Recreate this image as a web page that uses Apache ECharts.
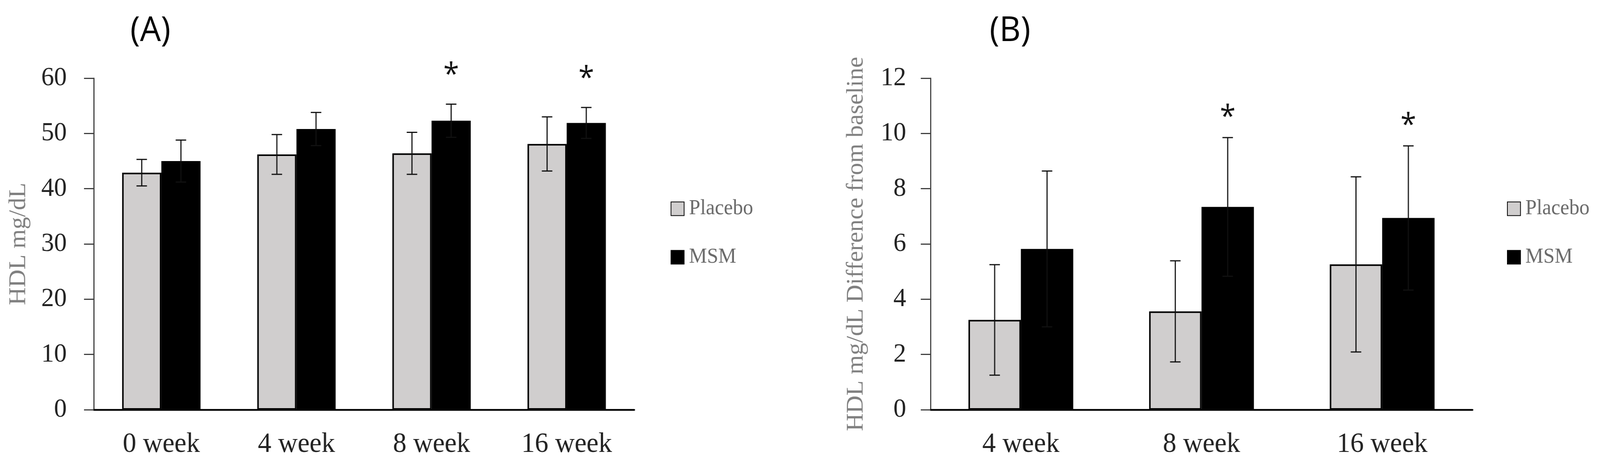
<!DOCTYPE html>
<html>
<head>
<meta charset="utf-8">
<script src="https://cdn.jsdelivr.net/npm/echarts@6/dist/echarts.min.js"></script>
<style>
  html, body { margin: 0; padding: 0; background: #fff; overflow: hidden; }
  #main { width: 4266px; height: 1192px; transform-origin: 0 0; }
</style>
</head>
<body>
<div id="main"></div>
<script>
// panel A: HDL level
var weeksA = ['0 week', '4 week', '8 week', '16 week'];
var placeboA = [42.9, 46.2, 46.4, 48.1];
var placeboErrA = [2.4, 3.6, 3.8, 4.9];
var msmA = [45.0, 50.8, 52.3, 51.9];
var msmErrA = [3.8, 3.0, 3.0, 2.8];
var sigA = [0, 0, 1, 1];

// panel B: difference from baseline
var weeksB = ['4 week', '8 week', '16 week'];
var placeboB = [3.25, 3.56, 5.26];
var placeboErrB = [2.0, 1.83, 3.17];
var msmB = [5.82, 7.34, 6.94];
var msmErrB = [2.82, 2.51, 2.61];
var sigB = [0, 1, 1];

var catGap = 0.42;
var serif = '"Liberation Serif", "DejaVu Serif", serif';
var sans = '"Open Sans", "Liberation Sans", sans-serif';

// the window can come out narrower than the 4266px layout, squeeze it to fit
var box = document.getElementById('main');
var sx = Math.min(1, window.innerWidth / 4266);
if (sx < 1) box.style.transform = 'scaleX(' + sx + ')';

var chart = echarts.init(box);

function errData(vals, errs, sig) {
    return vals.map(function (v, i) { return [i, v, errs[i], sig ? sig[i] : 0]; });
}

// slot: -0.5 for first bar of the group, +0.5 for the second
function errRender(slot, starLift) {
    return function (params, api) {
        var cat = api.value(0), val = api.value(1), err = api.value(2), sig = api.value(3);
        var band = api.size([1, 0])[0];
        var bw = band * (1 - catGap) / 2;
        var c = api.coord([cat, val]);
        var x = c[0] + slot * bw;
        var yt = api.coord([cat, val + err])[1];
        var yb = api.coord([cat, val - err])[1];
        var cap = 14;
        var ls = { stroke: '#111', lineWidth: 3 };
        var kids = [
            { type: 'line', shape: { x1: x, y1: yt, x2: x, y2: yb }, style: ls },
            { type: 'line', shape: { x1: x - cap, y1: yt, x2: x + cap, y2: yt }, style: ls },
            { type: 'line', shape: { x1: x - cap, y1: yb, x2: x + cap, y2: yb }, style: ls }
        ];
        if (sig) {
            kids.push({
                type: 'text', x: x, y: yt - starLift,
                style: { text: '*', fontSize: 76, fontFamily: sans, fill: '#111',
                         align: 'center', verticalAlign: 'middle' }
            });
        }
        return { type: 'group', children: kids };
    };
}

function yAx(idx, max, step, name, gap, margin) {
    return {
        type: 'value', gridIndex: idx, min: 0, max: max, interval: step,
        name: name, nameLocation: 'middle', nameRotate: 90, nameGap: gap,
        nameTextStyle: { fontFamily: serif, fontSize: 63, color: '#808080' },
        axisLine: { show: true, lineStyle: { color: '#404040', width: 3 } },
        axisTick: { show: true, length: 26, lineStyle: { color: '#404040', width: 3 } },
        axisLabel: { margin: margin, fontFamily: serif, fontSize: 68, color: '#222' },
        splitLine: { show: false }
    };
}

function xAx(idx, cats) {
    return {
        type: 'category', gridIndex: idx, data: cats,
        axisLine: { lineStyle: { color: '#000', width: 4.5 } },
        axisTick: { show: false },
        axisLabel: { margin: 53, fontFamily: serif, fontSize: 72, color: '#222' }
    };
}

var placeboStyle = { color: '#d0cece', borderColor: '#000', borderWidth: 4 };
var msmStyle = { color: '#000', borderColor: '#000', borderWidth: 4 };

function legendAt(left) {
    return {
        data: ['Placebo', 'MSM'], orient: 'vertical', left: left, top: 507, padding: 0,
        itemWidth: 35, itemHeight: 35, itemGap: 70, icon: 'rect',
        textStyle: { fontFamily: serif, fontSize: 54, color: '#6a6a6a', padding: [0, 0, 0, 8], overflow: 'none' }
    };
}

var option = {
    animation: false,
    grid: [
        { left: 250, top: 200, width: 1441, height: 848 },
        { left: 2481, top: 200, width: 1445, height: 848 }
    ],
    xAxis: [xAx(0, weeksA), xAx(1, weeksB)],
    yAxis: [yAx(0, 60, 10, 'HDL mg/dL', 168, 72), yAx(1, 12, 2, 'HDL mg/dL Difference from baseline', 166, 65)],
    legend: [legendAt(1788), legendAt(4018)],
    graphic: [
        { type: 'text', x: 401, y: 80, style: { text: '(A)', fontSize: 88, fontFamily: sans, fill: '#000', align: 'center', verticalAlign: 'middle' } },
        { type: 'text', x: 2693, y: 80, style: { text: '(B)', fontSize: 88, fontFamily: sans, fill: '#000', align: 'center', verticalAlign: 'middle' } }
    ],
    series: [
        { name: 'Placebo', type: 'bar', xAxisIndex: 0, yAxisIndex: 0, data: placeboA,
          barGap: '0%', barCategoryGap: (catGap * 100) + '%', itemStyle: placeboStyle },
        { name: 'MSM', type: 'bar', xAxisIndex: 0, yAxisIndex: 0, data: msmA,
          barGap: '0%', barCategoryGap: (catGap * 100) + '%', itemStyle: msmStyle },
        { name: 'Placebo', type: 'bar', xAxisIndex: 1, yAxisIndex: 1, data: placeboB,
          barGap: '0%', barCategoryGap: (catGap * 100) + '%', itemStyle: placeboStyle },
        { name: 'MSM', type: 'bar', xAxisIndex: 1, yAxisIndex: 1, data: msmB,
          barGap: '0%', barCategoryGap: (catGap * 100) + '%', itemStyle: msmStyle },
        { type: 'custom', xAxisIndex: 0, yAxisIndex: 0, z: 5, renderItem: errRender(-0.5, 72), data: errData(placeboA, placeboErrA) },
        { type: 'custom', xAxisIndex: 0, yAxisIndex: 0, z: 5, renderItem: errRender(0.5, 72), data: errData(msmA, msmErrA, sigA) },
        { type: 'custom', xAxisIndex: 1, yAxisIndex: 1, z: 5, renderItem: errRender(-0.5, 50), data: errData(placeboB, placeboErrB) },
        { type: 'custom', xAxisIndex: 1, yAxisIndex: 1, z: 5, renderItem: errRender(0.5, 50), data: errData(msmB, msmErrB, sigB) }
    ]
};
chart.setOption(option);
</script>
</body>
</html>
